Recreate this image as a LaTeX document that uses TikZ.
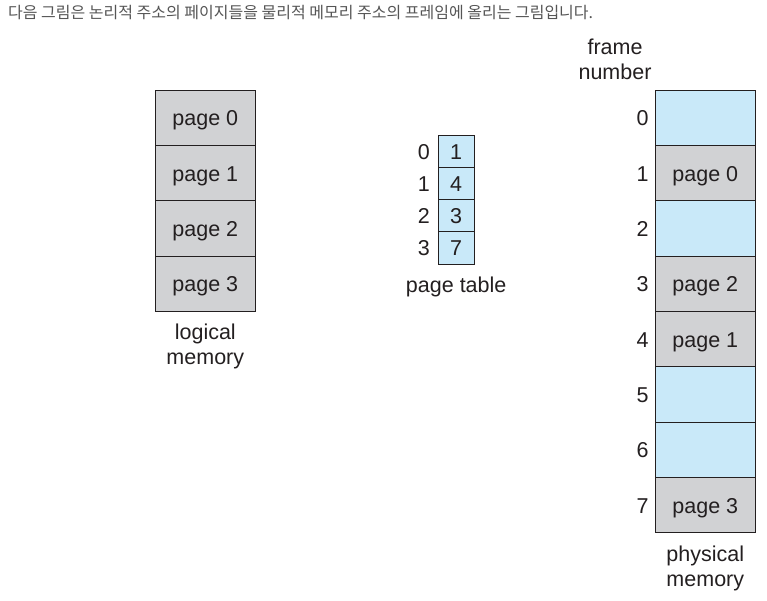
\documentclass[tikz,border=0pt]{standalone}
\usepackage{fontspec}
\setmainfont{Liberation Sans}
\newfontfamily\kfont{Noto Sans CJK KR}
\definecolor{cellgray}{HTML}{D1D2D4}
\definecolor{cellblue}{HTML}{C9E9F9}
\definecolor{ink}{HTML}{231F20}
\definecolor{headgray}{HTML}{555555}
\begin{document}
\begin{tikzpicture}[x=1pt,y=-1pt,
  every node/.style={text=ink, font=\fontsize{21.5}{24}\selectfont, inner sep=0pt},
  lbl/.style={text height=16pt, text depth=0pt},
  memcell/.style={lbl, draw=ink, line width=0.9pt, minimum width=100pt, minimum height=55.3pt},
  graycell/.style={memcell, fill=cellgray},
  bluecell/.style={memcell, fill=cellblue},
  ptcell/.style={lbl, draw=ink, line width=0.9pt, fill=cellblue, minimum width=35.5pt, minimum height=32.25pt},
  caption/.style={align=center, font=\fontsize{21.5}{24.5}\selectfont}
]
\useasboundingbox (0,0) rectangle (767,601);
% header
\node[anchor=west, text=headgray, font=\kfont\fontsize{16}{18}\selectfont] (head) at (8,13) {다음 그림은 논리적 주소의 페이지들을 물리적 메모리 주소의 프레임에 올리는 그림입니다.};
% logical memory
\foreach \i in {0,1,2,3} {
  \node[graycell] (lm\i) at (205.3,{90.3+55.3*\i+27.65}) {page \i};
}
\node[caption] (lmcap) at (205.3,346.5) {logical\\memory};
% page table
\foreach \i/\v in {0/1,1/4,2/3,3/7} {
  \node[ptcell] (pt\i) at (456.2,{135+32.25*\i+16.125}) {\v};
  \node[lbl, anchor=east] (pi\i) at ([xshift=-8pt]pt\i.west) {\i};
}
\node (ptcap) at (456.2,286.5) {page table};
% physical memory
\foreach \i/\s/\t in {0/bluecell/,1/graycell/page 0,2/bluecell/,3/graycell/page 2,4/graycell/page 1,5/bluecell/,6/bluecell/,7/graycell/page 3} {
  \node[\s] (pm\i) at (705.3,{90.3+55.3*\i+27.65}) {\t};
  \node[lbl, anchor=east] (fn\i) at ([xshift=-6pt]pm\i.west) {\i};
}
\node[caption] (fncap) at (615,59.5) {frame\\number};
\node[caption] (pmcap) at (705.3,568.5) {physical\\memory};
\end{tikzpicture}
\end{document}
